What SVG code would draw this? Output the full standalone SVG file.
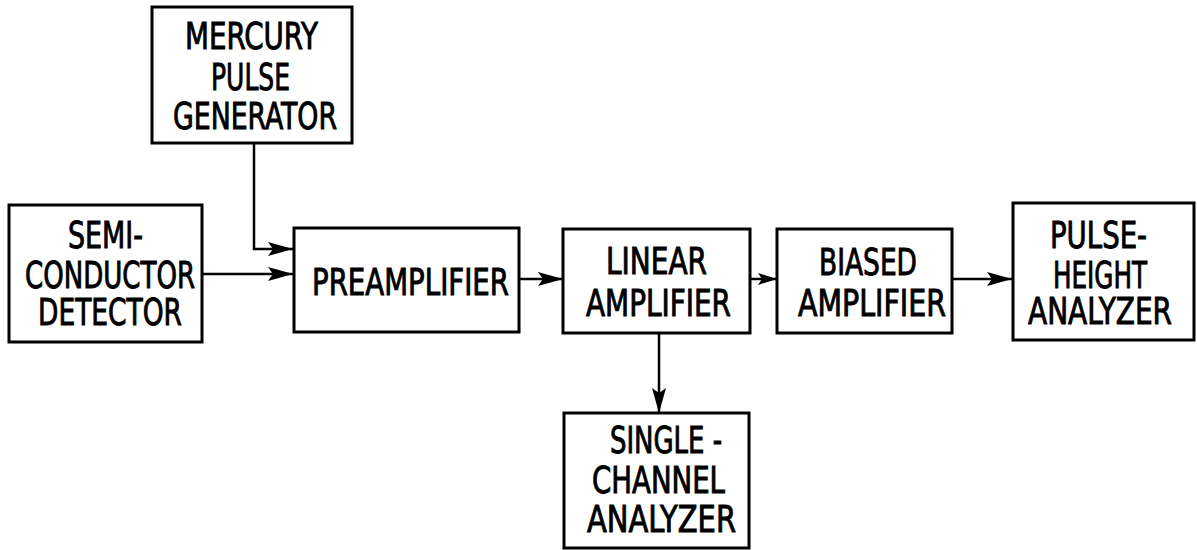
<svg xmlns="http://www.w3.org/2000/svg" width="1197" height="550" viewBox="0 0 1197 550">
  <style>
    .box { fill: none; stroke: #000; stroke-width: 3; }
    .lbl { font-family: "DejaVu Sans Condensed", "DejaVu Sans", "Liberation Sans", sans-serif; font-stretch: condensed; font-weight: normal; font-size: 37px; fill: #000; stroke: #000; stroke-width: 0.9; }
    .wire { fill: none; stroke: #000; stroke-width: 2.5; }
  </style>
  <defs>
    <marker id="arr" markerUnits="userSpaceOnUse" viewBox="-27 -8 29 16" refX="0" refY="0" markerWidth="29" markerHeight="16" orient="auto">
      <path d="M0,0 L-25,-7 L-20,0 L-25,7 Z" fill="#000"/>
    </marker>
    <marker id="arrS" markerUnits="userSpaceOnUse" viewBox="-22 -7 24 14" refX="0" refY="0" markerWidth="24" markerHeight="14" orient="auto">
      <path d="M0,0 L-19,-6 L-15,0 L-19,6 Z" fill="#000"/>
    </marker>
  </defs>
  <rect width="1197" height="550" fill="#fff"/>

  <g id="connectors">
    <path class="wire" d="M254,143 L254,249 L293,249" marker-end="url(#arr)"/>
    <path class="wire" d="M202,274 L293,274" marker-end="url(#arr)"/>
    <path class="wire" d="M519,279 L563,279" marker-end="url(#arr)"/>
    <path class="wire" d="M750,279 L777,279" marker-end="url(#arrS)"/>
    <path class="wire" d="M952,279 L1012,279" marker-end="url(#arr)"/>
    <path class="wire" d="M659,333 L659,413" marker-end="url(#arr)"/>
  </g>

  <g id="mercury">
    <rect class="box" x="152" y="7" width="200" height="136"/>
    <text class="lbl" x="185" y="49" textLength="133" lengthAdjust="spacingAndGlyphs">MERCURY</text>
    <text class="lbl" x="211" y="90" textLength="79" lengthAdjust="spacingAndGlyphs">PULSE</text>
    <text class="lbl" x="173" y="129" textLength="164" lengthAdjust="spacingAndGlyphs">GENERATOR</text>
  </g>

  <g id="semiconductor">
    <rect class="box" x="9" y="205" width="193" height="137"/>
    <text class="lbl" x="68" y="248" textLength="75" lengthAdjust="spacingAndGlyphs">SEMI-</text>
    <text class="lbl" x="25" y="288" textLength="170" lengthAdjust="spacingAndGlyphs">CONDUCTOR</text>
    <text class="lbl" x="38" y="325" textLength="144" lengthAdjust="spacingAndGlyphs">DETECTOR</text>
  </g>

  <g id="preamplifier">
    <rect class="box" x="294" y="228" width="225" height="104"/>
    <text class="lbl" x="312" y="295" textLength="197" lengthAdjust="spacingAndGlyphs">PREAMPLIFIER</text>
  </g>

  <g id="linear">
    <rect class="box" x="563" y="229" width="187" height="104"/>
    <text class="lbl" x="606" y="274" textLength="101" lengthAdjust="spacingAndGlyphs">LINEAR</text>
    <text class="lbl" x="586" y="316" textLength="145" lengthAdjust="spacingAndGlyphs">AMPLIFIER</text>
  </g>

  <g id="single">
    <rect class="box" x="564" y="413" width="185" height="135"/>
    <text class="lbl" x="610" y="453" textLength="112" lengthAdjust="spacingAndGlyphs">SINGLE -</text>
    <text class="lbl" x="592" y="493" textLength="133" lengthAdjust="spacingAndGlyphs">CHANNEL</text>
    <text class="lbl" x="587" y="532" textLength="149" lengthAdjust="spacingAndGlyphs">ANALYZER</text>
  </g>

  <g id="biased">
    <rect class="box" x="777" y="229" width="175" height="104"/>
    <text class="lbl" x="819" y="275" textLength="98" lengthAdjust="spacingAndGlyphs">BIASED</text>
    <text class="lbl" x="798" y="316" textLength="148" lengthAdjust="spacingAndGlyphs">AMPLIFIER</text>
  </g>

  <g id="pulseheight">
    <rect class="box" x="1013" y="203" width="181" height="137"/>
    <text class="lbl" x="1050" y="248" textLength="97" lengthAdjust="spacingAndGlyphs">PULSE-</text>
    <text class="lbl" x="1053" y="288" textLength="94" lengthAdjust="spacingAndGlyphs">HEIGHT</text>
    <text class="lbl" x="1028" y="324" textLength="144" lengthAdjust="spacingAndGlyphs">ANALYZER</text>
  </g>
</svg>
